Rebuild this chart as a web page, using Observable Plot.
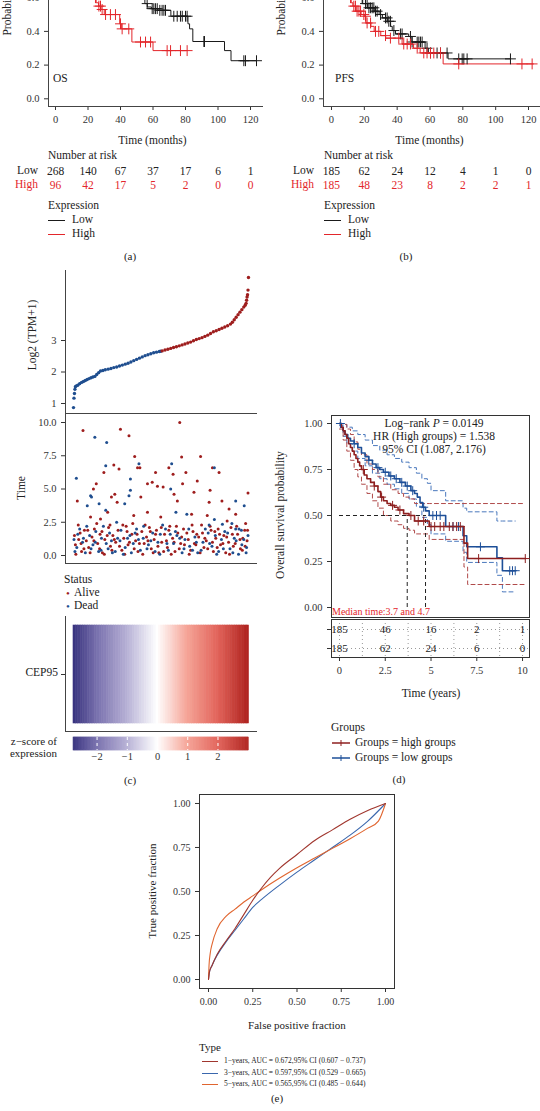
<!DOCTYPE html>
<html><head><meta charset="utf-8">
<script src="https://cdn.jsdelivr.net/npm/d3@7"></script>
<script src="https://cdn.jsdelivr.net/npm/@observablehq/plot@0.6"></script>
<style>
html,body{margin:0;padding:0;background:#fff;}
#root{position:relative;width:540px;height:1111px;overflow:hidden;background:#fff;font-family:"Liberation Serif","DejaVu Serif",serif;color:#222;}
.t{position:absolute;white-space:nowrap;line-height:1;}
.ln{position:absolute;}
</style></head><body><div id="root"></div>
<script>
// ---------------- DATA ----------------
const monthTicks=[0,20,40,60,80,100,120];
const probTicks=[0,0.2,0.4,0.6];
// (a) OS
const osLowT=[0,6,12,18,24,30,36,42,48,53,55,56.5,59,63,71,81.5,82.5,84.5,104,108,124];
const osLowS=[1,0.97,0.93,0.9,0.85,0.8,0.74,0.68,0.63,0.59,0.565,0.545,0.535,0.525,0.49,0.445,0.415,0.34,0.286,0.226,0.226];
const osHighT=[0,4,8,12,16,20,23,25,26.5,28,30,39.5,40.5,47,60,81];
const osHighS=[1,0.95,0.88,0.8,0.72,0.65,0.6,0.57,0.55,0.53,0.5,0.445,0.415,0.337,0.286,0.286];
const osLowCens=[56.4,59.5,60.5,61.5,62.6,64.2,65.6,66.7,67.7,72.8,74.9,76.9,78,80,81,91.3,91.7,115.9,116.9,123.7];
const osHighCens=[24.6,26.7,27.7,28.7,30.8,33.8,36.9,40,41,45.1,52.3,55.4,58.5,68.7,70.8,76.9,81];
const riskTimes=[0,20,40,60,80,100,120];
const osRiskLow=[268,140,67,37,17,6,1];
const osRiskHigh=[96,42,17,5,2,0,0];
// (b) PFS
const pfsLowT=[0,3,6,10,14,17,19,22,26,29,31,34,36,37,39,47,49,57,59,71,109];
const pfsLowS=[1,0.93,0.84,0.74,0.66,0.6,0.565,0.54,0.52,0.5,0.48,0.46,0.43,0.405,0.385,0.37,0.337,0.3,0.272,0.237,0.237];
const pfsHighT=[0,3,6,9,11,12,13,15,18,20,21,24,26,30,33,43,50,54,68,123];
const pfsHighS=[1,0.9,0.78,0.66,0.6,0.57,0.55,0.52,0.5,0.49,0.45,0.43,0.4,0.375,0.36,0.325,0.3,0.272,0.207,0.207];
const pfsLowCens=[18.7,20.7,21.7,22.8,23.8,24.8,25.8,26.8,27.8,29.9,32.9,33.9,34.9,35.9,38,42,43,48.1,49.1,52.2,53.2,54.2,55.2,58.2,60.3,64.3,66.4,70.4,77.5,79.6,80.6,82.6,109];
const pfsHighCens=[11.6,13.6,14.6,15.6,16.7,17.7,19.7,20.7,21.7,23.8,26.8,28.8,32.9,35.9,41,44,46.1,48.1,52.2,56.2,58.2,60.3,62.3,66.4,77.5,116,122.2];
const pfsRiskLow=[185,62,24,12,4,1,0];
const pfsRiskHigh=[185,48,23,8,2,2,1];
// (c) expression ranking
const exprRank=[1,2,3,4,5,7,10,14,18,22,26,30,34,38,42,46,50,54,58,63,68,74,80,86,92,98,104,110,116,122,128,134,140,146,152,158,164,170,176,182,185,188,194,200,206,212,218,224,230,236,242,248,254,260,266,272,278,284,290,296,302,308,314,320,326,332,336,340,344,348,352,356,360,363,365,366,367,368,369,370];
const exprVal=[0.87,1.17,1.32,1.45,1.53,1.56,1.58,1.63,1.67,1.70,1.73,1.76,1.79,1.82,1.84,1.86,1.92,1.98,2.03,2.05,2.07,2.09,2.11,2.14,2.16,2.19,2.22,2.25,2.28,2.32,2.36,2.40,2.44,2.48,2.52,2.55,2.58,2.61,2.63,2.65,2.66,2.67,2.70,2.72,2.75,2.78,2.80,2.83,2.86,2.89,2.92,2.95,2.99,3.03,3.06,3.09,3.13,3.17,3.22,3.28,3.31,3.35,3.39,3.43,3.47,3.52,3.58,3.66,3.74,3.82,3.90,3.98,4.06,4.12,4.18,4.28,4.38,4.45,4.60,5.00];
const lowGroupMaxRank=185;
// (c) survival time by rank: [rank, years]
const alivePts=[[21,9.4],[100,9.5],[118,9.0],[225,10.0],[130,7.45],[229,7.4],[269,7.45],[86,6.8],[97,6.5],[65,6.25],[136,6.6],[141,6.6],[174,6.25],[202,6.6],[211,6.1],[294,6.6],[308,6.25],[49,5.4],[9,4.1],[43,5.0],[88,4.6],[81,4.4],[93,4.0],[143,4.4],[157,5.4],[167,5.5],[178,5.2],[190,5.15],[213,4.6],[220,4.1],[231,5.4],[238,6.25],[255,4.75],[262,5.6],[287,4.0],[289,4.9],[314,4.1],[329,3.5],[369,4.7],[283,3.0],[325,2.6],[343,3.1],[364,2.4],[37,2.9],[58,2.75],[73,3.25],[128,3.0],[157,3.25],[185,2.9],[250,3.1],
[3,1.5],[5,0.8],[12,1.2],[15,1.7],[18,0.3],[24,1.9],[28,1.1],[33,0.6],[40,1.4],[45,2.0],[52,0.9],[57,1.6],[62,0.2],[67,1.2],[75,2.1],[79,0.7],[84,1.5],[90,1.0],[95,1.9],[103,0.4],[107,1.3],[112,2.2],[116,0.8],[124,1.6],[132,1.1],[137,0.3],[145,1.8],[150,0.9],[155,1.4],[161,2.1],[165,0.5],[171,1.2],[176,1.9],[181,0.2],[187,1.0],[193,1.6],[199,0.6],[204,2.2],[210,1.3],[215,0.3],[221,1.7],[227,0.9],[233,2.0],[243,1.2],[248,0.4],[253,1.8],[259,0.8],[265,1.4],[271,2.3],[276,0.6],[281,1.1],[291,1.9],[296,0.3],[301,1.3],[306,2.0],[311,0.8],[318,1.5],[322,0.2],[328,1.0],[333,2.1],[338,0.7],[347,1.6],[352,1.2],[357,0.4],[362,1.9],[367,1.1],
[6,0.1],[11,2.3],[17,0.9],[23,0.5],[31,1.9],[36,0.2],[44,1.1],[50,2.4],[56,0.5],[61,1.8],[66,0.1],[72,1.5],[78,2.3],[82,0.4],[87,1.2],[98,0.7],[105,2.3],[109,0.1],[114,1.8],[119,1.0],[126,2.4],[129,0.5],[135,1.6],[140,0.9],[147,0.1],[152,2.3],[158,1.1],[163,1.8],[169,0.2],[174,1.6],[179,0.7],[186,2.1],[191,0.3],[197,1.1],[202,1.9],[207,0.1],[213,1.0],[218,2.2],[224,0.5],[229,1.4],[235,0.8],[240,1.7],[245,0.1],[251,2.3],[256,0.9],[261,1.6],[268,0.2],[273,1.7],[278,1.3],[284,0.5],[289,2.2],[294,1.0],[299,1.8],[304,0.6],[309,1.6],[316,0.9],[324,1.4],[330,0.1],[336,1.6],[342,0.9],[345,2.2],[353,0.5],[358,1.3],[363,0.7],[368,1.9]];
const deadPts=[[7,5.8],[46,8.9],[71,8.5],[69,6.75],[121,5.75],[139,6.9],[208,6.9],[298,6.6],[37,4.5],[39,4.4],[121,4.9],[118,4.5],[30,3.75],[55,3.9],[69,3.4],[109,3.9],[206,5.0],[217,3.25],[240,3.1],[343,4.1],[361,3.75],[92,2.5],[298,2.7],[287,2.3],[315,2.35],[335,2.4],[350,2.0],[343,2.0],
[2,1.2],[8,0.6],[14,2.0],[20,1.0],[26,0.2],[35,1.5],[42,0.8],[48,1.8],[54,0.3],[60,1.3],[70,0.9],[77,1.7],[83,0.2],[94,1.3],[101,1.9],[110,0.6],[120,1.5],[127,0.9],[134,2.0],[142,0.4],[148,1.3],[159,0.8],[168,1.7],[179,1.0],[183,0.1],[195,2.0],[201,0.4],[212,0.9],[219,1.5],[230,0.2],[236,1.2],[246,0.7],[257,1.4],[263,0.2],[274,1.0],[285,1.7],[293,0.7],[303,0.1],[313,1.2],[320,1.8],[331,0.5],[340,1.3],[349,0.1],[355,1.9],[366,0.6],[369,1.5],
[4,0.3],[10,1.6],[22,1.3],[29,2.2],[38,0.5],[47,1.0],[59,0.4],[64,2.2],[74,0.5],[81,1.1],[89,0.3],[99,1.1],[106,0.1],[115,1.3],[123,0.2],[131,1.7],[138,1.2],[149,2.2],[156,0.5],[164,1.1],[173,0.3],[184,1.6],[189,2.3],[198,0.9],[205,1.6],[216,1.8],[225,1.3],[234,0.5],[244,2.0],[252,0.4],[260,1.0],[270,0.4],[279,2.0],[288,0.9],[300,1.5],[307,0.3],[317,0.5],[326,1.7],[337,0.2],[344,1.1],[356,0.8],[360,1.2],[365,0.2]];
const timeTicks=[0,2.5,5,7.5,10];
// (c) heatmap z-score by rank block (5 ranks per block)
const heatStart=[1,6,11,16,21,26,31,36,41,46,51,56,61,66,71,76,81,86,91,96,101,106,111,116,121,126,131,136,141,146,151,156,161,166,171,176,181,186,191,196,201,206,211,216,221,226,231,236,241,246,251,256,261,266,271,276,281,286,291,296,301,306,311,316,321,326,331,336,341,346,351,356,361,366];
const heatZ=[-2.75,-2.67,-2.59,-2.51,-2.44,-2.36,-2.28,-2.20,-2.12,-2.04,-1.96,-1.88,-1.81,-1.73,-1.65,-1.57,-1.49,-1.41,-1.33,-1.26,-1.18,-1.10,-1.02,-0.94,-0.86,-0.78,-0.70,-0.63,-0.55,-0.47,-0.39,-0.31,-0.23,-0.15,-0.08,0.00,0.08,0.16,0.24,0.32,0.39,0.47,0.55,0.63,0.71,0.79,0.87,0.95,1.02,1.10,1.18,1.26,1.34,1.42,1.50,1.57,1.65,1.73,1.81,1.89,1.97,2.05,2.12,2.20,2.28,2.36,2.44,2.52,2.60,2.68,2.75,2.83,2.91,2.99];
const zTicks=[-2,-1,0,1,2];
// (d) KM in years
const dHighT=[0,0.1,0.2,0.3,0.4,0.5,0.6,0.7,0.8,0.9,1.0,1.1,1.2,1.35,1.5,1.7,1.9,2.1,2.25,2.4,2.6,2.8,3.0,3.2,3.5,3.8,4.1,4.9,6.8,7.0,10.15];
const dHighS=[1,0.98,0.96,0.94,0.92,0.89,0.87,0.85,0.83,0.81,0.79,0.77,0.75,0.72,0.70,0.68,0.66,0.63,0.60,0.58,0.565,0.555,0.545,0.53,0.51,0.50,0.47,0.44,0.35,0.266,0.266];
const dLowT=[0,0.1,0.2,0.3,0.45,0.6,0.8,1.0,1.2,1.4,1.6,1.8,2.0,2.2,2.4,2.7,3.0,3.3,3.6,3.9,4.1,4.25,4.4,4.55,4.7,4.9,5.8,6.75,6.95,8.6,8.9,9.6];
const dLowS=[1,0.98,0.96,0.94,0.92,0.905,0.89,0.87,0.84,0.82,0.80,0.78,0.76,0.75,0.735,0.715,0.70,0.68,0.66,0.635,0.62,0.60,0.57,0.545,0.525,0.50,0.44,0.39,0.33,0.27,0.20,0.20];
const ciT=[0,0.2,0.4,0.7,1.0,1.4,1.8,2.2,2.6,3.0,3.4,3.8,4.2,4.5,4.8,5.0,5.8,6.75,6.95,8.6,8.9,9.6];
const dLowUp=[1,0.995,0.98,0.96,0.94,0.91,0.88,0.855,0.83,0.81,0.79,0.76,0.73,0.70,0.675,0.635,0.58,0.54,0.52,0.47,0.47,0.47];
const dLowLo=[0.99,0.93,0.89,0.85,0.81,0.77,0.73,0.70,0.67,0.645,0.62,0.59,0.55,0.49,0.45,0.40,0.36,0.30,0.245,0.175,0.085,0.085];
const ciHT=[0,0.2,0.4,0.6,0.8,1.0,1.2,1.5,1.8,2.1,2.4,2.8,3.2,3.5,3.8,4.1,4.9,6.8,7.0,10.15];
const dHighUp=[1,0.995,0.97,0.94,0.90,0.86,0.83,0.78,0.75,0.71,0.67,0.64,0.62,0.60,0.59,0.565,0.565,0.565,0.565,0.565];
const dHighLo=[0.97,0.91,0.85,0.80,0.75,0.71,0.67,0.62,0.58,0.54,0.50,0.47,0.45,0.43,0.42,0.40,0.37,0.22,0.125,0.125];
const dHighCens=[1.3,1.9,2.3,2.9,3.3,3.9,4.3,4.6,5.0,5.2,5.5,5.7,6.0,6.2,6.4,6.6,7.6,10.15];
const dLowCens=[0.05,0.8,1.6,2.1,2.5,2.8,3.1,3.4,3.7,4.0,4.6,5.1,5.3,5.5,6.2,6.5,7.7,9.3,9.45,9.6];
const medianTimes=[3.7,4.7];
const yearTicks=[0,2.5,5,7.5,10];
const yearGrid=[0,1.25,2.5,3.75,5,6.25,7.5,8.75,10];
const survTicks=[0,0.25,0.5,0.75,1];
const dRiskHigh=[185,46,16,2,1];
const dRiskLow=[185,62,24,6,0];
// (e) ROC
const roc1=[[0,0],[0.005,0.04],[0.02,0.08],[0.05,0.145],[0.1,0.22],[0.15,0.29],[0.2,0.37],[0.25,0.45],[0.3,0.52],[0.35,0.58],[0.4,0.63],[0.5,0.71],[0.6,0.79],[0.7,0.85],[0.8,0.91],[0.9,0.96],[1,1]];
const roc3=[[0,0],[0.005,0.04],[0.02,0.08],[0.05,0.14],[0.1,0.215],[0.15,0.28],[0.2,0.345],[0.25,0.41],[0.3,0.455],[0.4,0.535],[0.5,0.61],[0.6,0.68],[0.7,0.75],[0.8,0.82],[0.9,0.9],[1,1]];
const roc5=[[0,0],[0.003,0.08],[0.01,0.15],[0.02,0.2],[0.05,0.29],[0.1,0.36],[0.15,0.4],[0.2,0.44],[0.25,0.475],[0.3,0.51],[0.4,0.575],[0.5,0.635],[0.6,0.69],[0.7,0.745],[0.8,0.8],[0.9,0.86],[0.96,0.9],[1,1]];
const rocLabels=["1−years, AUC = 0.672,95% CI (0.607 − 0.737)","3−years, AUC = 0.597,95% CI (0.529 − 0.665)","5−years, AUC = 0.565,95% CI (0.485 − 0.644)"];
const rocTicks=[0,0.25,0.5,0.75,1];

// ---------------- HELPERS ----------------
const FONT='"Liberation Serif","DejaVu Serif",serif';
const root=document.getElementById("root");
function text(s,x,y,o={}){
  const d=document.createElement("div");d.className="t";d.innerHTML=s;
  d.style.fontSize=(o.size||11)+"px";d.style.color=o.color||"#222";
  d.style.left=x+"px";d.style.top=y+"px";
  const ax=o.anchor==="middle"?"-50%":o.anchor==="end"?"-100%":"0";
  d.style.transform=o.rotate?`translate(-50%,-50%) rotate(${o.rotate}deg)`:`translate(${ax},-50%)`;
  root.appendChild(d);
}
function line(x0,y0,x1,y1,color,w=1){
  const d=document.createElement("div");d.className="ln";
  d.style.left=Math.min(x0,x1)+"px";d.style.top=Math.min(y0,y1)+"px";
  d.style.width=Math.max(Math.abs(x1-x0),w)+"px";d.style.height=Math.max(Math.abs(y1-y0),w)+"px";
  d.style.background=color;root.appendChild(d);
}
function place(x0,x1,y0,y1,T,H,opts){
  const svg=Plot.plot(Object.assign({width:540,height:H,marginLeft:x0,marginRight:540-x1,marginTop:y0-T,marginBottom:T+H-y1,
    style:{fontFamily:FONT,fontSize:"10.5px",background:"transparent",color:"#333",overflow:"visible"}},opts));
  svg.style.position="absolute";svg.style.left="0px";svg.style.top=T+"px";
  root.appendChild(svg);return svg;
}
const zip=(a,b)=>a.map((v,i)=>[v,b[i]]);
function stepAt(T,S,t){let s=S[0];for(let i=0;i<T.length;i++){if(T[i]<=t)s=S[i];else break;}return s;}
const RED="#e3262b", BLK="#1a1a1a";

// ---------------- (a) & (b) ----------------
function kmPanel(x0,x1,dom,low,high,lowC,highC,name,nameX){
  place(x0,x1,-77.7,106,-90,225,{
    x:{domain:dom,ticks:monthTicks,tickSize:4,label:null},
    y:{domain:[-0.0457,1.0445],ticks:probTicks,tickSize:4,tickFormat:d3.format(".1f"),label:null},
    marks:[
      Plot.ruleX([dom[0]],{stroke:"#444"}),Plot.ruleY([-0.0457],{stroke:"#444"}),
      Plot.line(low,{x:d=>d[0],y:d=>d[1],curve:"step-after",stroke:BLK,strokeWidth:1}),
      Plot.line(high,{x:d=>d[0],y:d=>d[1],curve:"step-after",stroke:RED,strokeWidth:1}),
      Plot.dot(lowC,{x:d=>d[0],y:d=>d[1],symbol:"plus",r:3.6,stroke:BLK,strokeWidth:1}),
      Plot.dot(highC,{x:d=>d[0],y:d=>d[1],symbol:"plus",r:3.6,stroke:RED,strokeWidth:1})
    ]});
  text(name,nameX,79,{size:11.5});
}
kmPanel(48,263,[-4.31,128],zip(osLowT,osLowS),zip(osHighT,osHighS),
  osLowCens.map(t=>[t,stepAt(osLowT,osLowS,t)]),osHighCens.map(t=>[t,stepAt(osHighT,osHighS,t)]),"OS",53);
kmPanel(323,540,[-4.87,127.3],zip(pfsLowT,pfsLowS),zip(pfsHighT,pfsHighS),
  pfsLowCens.map(t=>[t,stepAt(pfsLowT,pfsLowS,t)]),pfsHighCens.map(t=>[t,stepAt(pfsHighT,pfsHighS,t)]),"PFS",335);

function riskTable(x0,x1,dom,lowN,highN){
  const rows=[];riskTimes.forEach((t,i)=>{rows.push({t,g:"Low",n:lowN[i]});rows.push({t,g:"High",n:highN[i]});});
  place(x0,x1,164,192,150,50,{
    x:{domain:dom,axis:null},y:{type:"point",domain:["Low","High"],padding:0.5,axis:null},
    marks:[
      Plot.text(rows.filter(d=>d.g==="Low"),{x:"t",y:"g",text:"n",fontSize:11.5,fill:"#222"}),
      Plot.text(rows.filter(d=>d.g==="High"),{x:"t",y:"g",text:"n",fontSize:11.5,fill:RED})
    ]});
}
riskTable(48,263,[-4.31,128],osRiskLow,osRiskHigh);
riskTable(323,540,[-4.87,127.3],pfsRiskLow,pfsRiskHigh);

[[8,48,38,152.5,130,"(a)"],[282,324,314,429.5,406,"(b)"]].forEach(([yl,xl,xr,xc,xp,lab])=>{
  text("Probability",yl,10,{size:11.5,rotate:-90});
  text("Time (months)",xc,141,{size:11.5,anchor:"middle"});
  text("Number at risk",xl,156,{size:11.5});
  text("Low",xr,171,{size:11.5,anchor:"end"});
  text("High",xr,185,{size:11.5,anchor:"end",color:RED});
  text("Expression",xl,206,{size:11.5});
  line(xl,220,xl+17,220,BLK);line(xl,234,xl+17,234,RED);
  text("Low",xl+24,220,{size:11.5});text("High",xl+24,234,{size:11.5});
  text(lab,xp,256,{size:11,anchor:"middle"});
});

// ---------------- (c) ----------------
const CBLUE="#1f4e8f", CRED="#9e1d1d";
const idxDom=[-15.87,389.0];
const expr=exprRank.map((r,i)=>({r,v:exprVal[i],g:r<=lowGroupMaxRank?"low":"high"}));
place(65,257,270,413,260,153,{
  x:{domain:idxDom,axis:null},
  y:{domain:[0.683,5.222],ticks:[1,2,3],tickSize:4,tickFormat:d3.format("d"),label:null},
  marks:[
    Plot.ruleX([idxDom[0]],{stroke:"#444"}),Plot.ruleY([0.683],{stroke:"#444"}),
    Plot.dot(expr,{x:"r",y:"v",r:1.7,fill:d=>d.g==="low"?CBLUE:CRED,stroke:null})
  ]});
place(65,257,413,563,405,165,{
  x:{domain:idxDom,axis:null},
  y:{domain:[-0.6015,10.677],ticks:timeTicks,tickSize:4,tickFormat:d3.format(".1f"),label:null},
  marks:[
    Plot.ruleX([idxDom[0]],{stroke:"#444"}),Plot.ruleY([-0.6015],{stroke:"#444"}),
    Plot.dot(alivePts,{x:d=>d[0],y:d=>d[1],r:1.5,fill:CRED}),
    Plot.dot(deadPts,{x:d=>d[0],y:d=>d[1],r:1.5,fill:CBLUE})
  ]});
const colorOpts={type:"linear",domain:[-2.78,-2,-1,0,1,2,3.01],range:["#37327e","#7870ad","#b6b0d5","#ffffff","#f5a396","#e2645b","#af231f"]};
const heat=heatStart.map((s,i)=>({s,e:(heatStart[i+1]||371),z:heatZ[i]}));
place(65,257,616,731,600,140,{
  x:{domain:idxDom,axis:null},
  y:{domain:["CEP95"],padding:0.08,tickSize:4,tickFormat:()=>"",label:null},
  color:colorOpts,
  marks:[
    Plot.ruleX([idxDom[0]],{stroke:"#444"}),
    Plot.barX(heat,{x1:"s",x2:"e",y:()=>"CEP95",fill:"z",stroke:"z",strokeWidth:0.6})
  ]});
line(65,731,257,731,"#444");
const grad=d3.range(-2.78,3.01,0.02);
place(73,248,737,750,730,40,{
  x:{domain:[-2.78,3.01],ticks:zTicks,tickSize:0,tickPadding:2,tickFormat:d=>d<0?"−"+(-d):String(d),label:null},
  y:{domain:["z"],padding:0,axis:null},
  color:colorOpts,
  marks:[
    Plot.barX(grad,{x1:d=>d,x2:d=>d+0.02,y:()=>"z",fill:d=>d,stroke:d=>d,strokeWidth:0.5}),
    Plot.ruleX(zTicks,{stroke:"white",strokeDasharray:"3,3",strokeWidth:1})
  ]});
text("Log2 (TPM+1)",33,335,{size:11.5,rotate:-90});
text("Time",22,488,{size:11.5,rotate:-90});
text("Status",64,580,{size:11.5});
text("•",66,593,{size:11,color:CRED});text("Alive",74,593,{size:11.5});
text("•",66,606,{size:11,color:CBLUE});text("Dead",74,606,{size:11.5});
text("CEP95",58,673,{size:11.5,anchor:"end"});
text("z−score of",57,741,{size:11,anchor:"end"});
text("expression",57,753,{size:11,anchor:"end"});
text("(c)",130,780,{size:11,anchor:"middle"});

// ---------------- (d) ----------------
const DRED="#8e1f1f", DBLUE="#1d4f98", DRED2="#b04a4a", DBLUE2="#4a78bd";
const dDom=[-0.437,10.38];
place(331,529,415,617,405,230,{
  x:{domain:dDom,axis:null},
  y:{domain:[-0.0543,1.0435],ticks:survTicks,tickSize:4,tickFormat:d3.format(".2f"),label:null},
  marks:[
    Plot.frame({stroke:"#333"}),
    Plot.line(zip(ciT,dLowUp),{x:d=>d[0],y:d=>d[1],curve:"step-after",stroke:DBLUE2,strokeWidth:1,strokeDasharray:"4,3"}),
    Plot.line(zip(ciT,dLowLo),{x:d=>d[0],y:d=>d[1],curve:"step-after",stroke:DBLUE2,strokeWidth:1,strokeDasharray:"4,3"}),
    Plot.line(zip(ciHT,dHighUp),{x:d=>d[0],y:d=>d[1],curve:"step-after",stroke:DRED2,strokeWidth:1,strokeDasharray:"4,3"}),
    Plot.line(zip(ciHT,dHighLo),{x:d=>d[0],y:d=>d[1],curve:"step-after",stroke:DRED2,strokeWidth:1,strokeDasharray:"4,3"}),
    Plot.ruleY([0.5],{x1:0,x2:d3.max(medianTimes),stroke:"#222",strokeDasharray:"4,3"}),
    Plot.ruleX(medianTimes,{y1:0,y2:0.5,stroke:"#222",strokeDasharray:"4,3"}),
    Plot.line(zip(dLowT,dLowS),{x:d=>d[0],y:d=>d[1],curve:"step-after",stroke:DBLUE,strokeWidth:1.6}),
    Plot.line(zip(dHighT,dHighS),{x:d=>d[0],y:d=>d[1],curve:"step-after",stroke:DRED,strokeWidth:1.6}),
    Plot.dot(dLowCens.map(t=>[t,stepAt(dLowT,dLowS,t)]),{x:d=>d[0],y:d=>d[1],symbol:"plus",r:3,stroke:DBLUE,strokeWidth:1}),
    Plot.dot(dHighCens.map(t=>[t,stepAt(dHighT,dHighS,t)]),{x:d=>d[0],y:d=>d[1],symbol:"plus",r:3,stroke:DRED,strokeWidth:1})
  ]});
const dRisk=[];yearTicks.forEach((t,i)=>{dRisk.push({t,g:"high",n:dRiskHigh[i]});dRisk.push({t,g:"low",n:dRiskLow[i]});});
place(331,529,619,657,612,80,{
  x:{domain:dDom,ticks:yearTicks,tickSize:4,tickFormat:d=>String(d),label:null},
  y:{type:"point",domain:["high","low"],padding:0.5,tickSize:4,tickFormat:()=>"",label:null},
  marks:[
    Plot.ruleX(yearGrid,{stroke:"#999",strokeDasharray:"1,3"}),
    Plot.ruleY(["high","low"],{stroke:"#999",strokeDasharray:"1,3"}),
    Plot.frame({stroke:"#333"}),
    Plot.text(dRisk,{x:"t",y:"g",text:"n",fontSize:11,fill:"#222"})
  ]});
text("Overall survival probability",281,515,{size:11.5,rotate:-90});
text("Log−rank <i>P</i> = 0.0149",434,424,{size:11.5,anchor:"middle"});
text("HR (High groups) = 1.538",434,437,{size:11.5,anchor:"middle"});
text("95% CI (1.087, 2.176)",434,450,{size:11.5,anchor:"middle"});
text("Median time:3.7 and 4.7",332,612,{size:10,color:RED});
text("Time (years)",431,694,{size:11.5,anchor:"middle"});
text("Groups",331,728,{size:11.5});
function legKM(y,c,label){
  text(`<svg width="20" height="8" style="display:block"><line x1="1" y1="4" x2="19" y2="4" stroke="${c}" stroke-width="1.5"/><line x1="10" y1="1" x2="10" y2="7" stroke="${c}" stroke-width="1"/></svg>`,331,y,{size:8});
  text(label,355,y,{size:11.5});
}
legKM(743,DRED,"Groups = high groups");
legKM(758,DBLUE,"Groups = low groups");
text("(d)",399,779,{size:11,anchor:"middle"});

// ---------------- (e) ----------------
const ROC1="#a0362e", ROC3="#3a67ad", ROC5="#e0652f";
place(199,394,794,988,780,240,{
  x:{domain:[-0.0508,1.0508],ticks:rocTicks,tickSize:4,tickFormat:d3.format(".2f"),label:null},
  y:{domain:[-0.0511,1.051],ticks:rocTicks,tickSize:4,tickFormat:d3.format(".2f"),label:null},
  style:{fontFamily:FONT,fontSize:"10px",background:"transparent",color:"#333",overflow:"visible"},
  marks:[
    Plot.frame({stroke:"#333"}),
    Plot.line(roc3,{x:d=>d[0],y:d=>d[1],curve:"monotone-x",stroke:ROC3,strokeWidth:1.1}),
    Plot.line(roc5,{x:d=>d[0],y:d=>d[1],curve:"monotone-x",stroke:ROC5,strokeWidth:1.1}),
    Plot.line(roc1,{x:d=>d[0],y:d=>d[1],curve:"monotone-x",stroke:ROC1,strokeWidth:1.1})
  ]});
text("True positive fraction",152,891,{size:11,rotate:-90});
text("False positive fraction",297,1025,{size:11,anchor:"middle"});
text("Type",199,1047,{size:11});
[ROC1,ROC3,ROC5].forEach((c,i)=>{
  const y=[1061,1072.7,1084.3][i];
  line(202,y,218,y,c,1);
  text(rocLabels[i],224,y,{size:7.5});
});
text("(e)",277,1098,{size:11,anchor:"middle"});
</script></body></html>
